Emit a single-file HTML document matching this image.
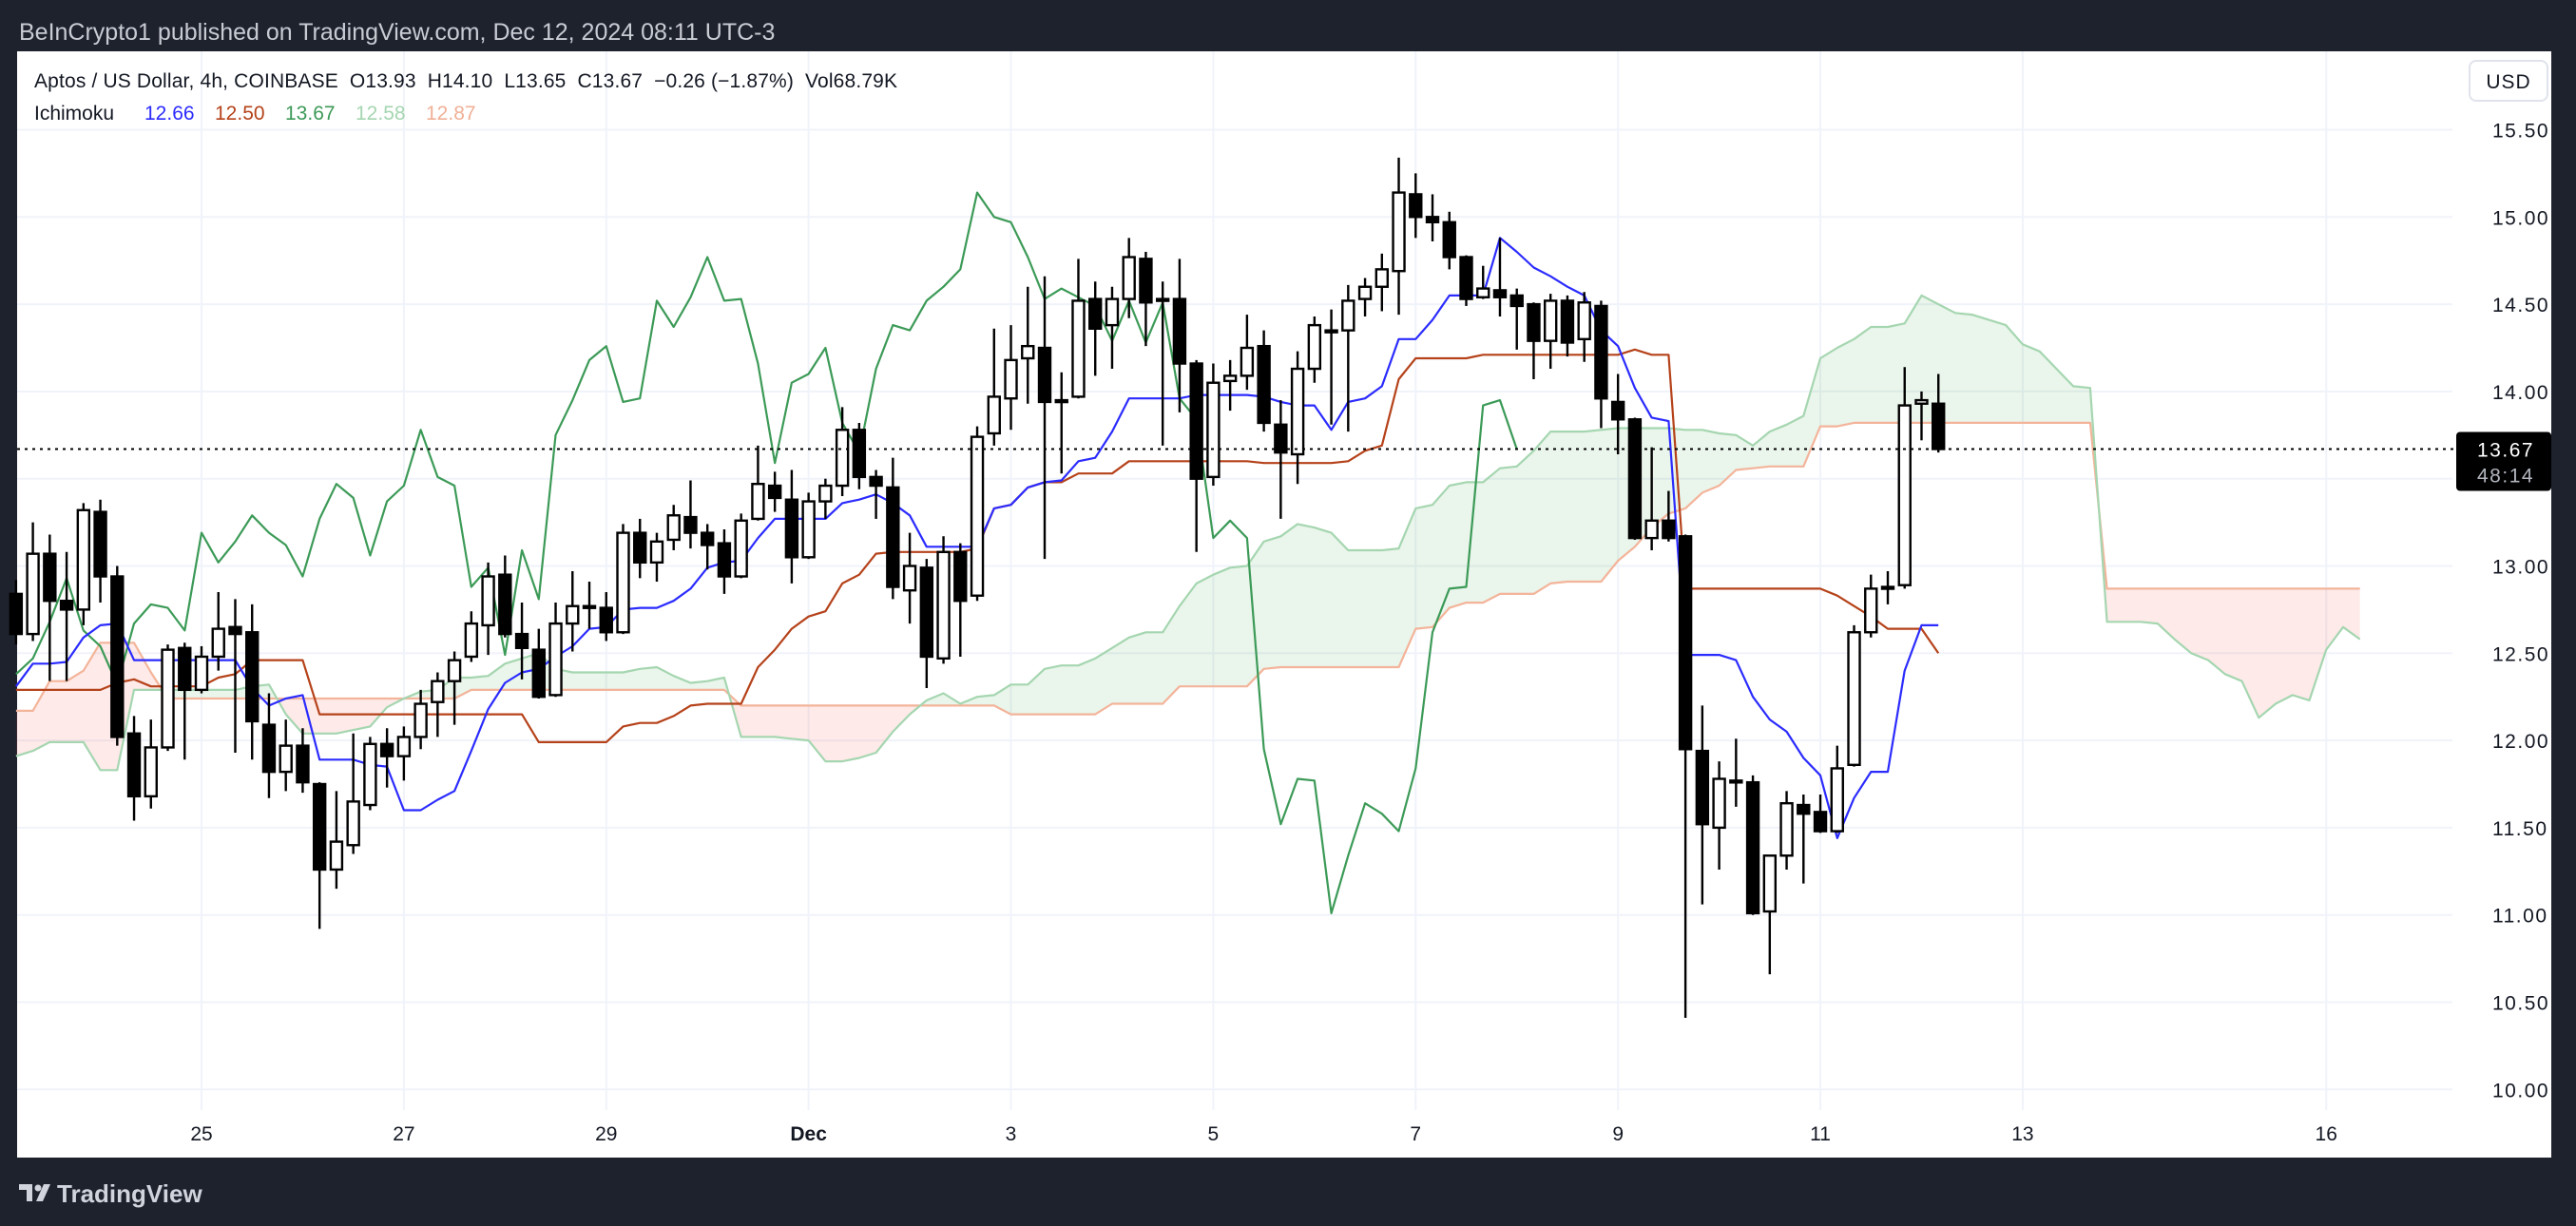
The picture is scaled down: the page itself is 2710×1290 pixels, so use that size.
<!DOCTYPE html>
<html><head><meta charset="utf-8"><style>
html,body{margin:0;padding:0;background:#1e222d;}
body{width:2710px;height:1290px;overflow:hidden;position:relative;font-family:"Liberation Sans",sans-serif;}
svg{position:absolute;left:0;top:0;}
</style></head><body>
<svg id="chart" width="2710" height="1290" viewBox="0 0 2710 1290" xmlns="http://www.w3.org/2000/svg">
<rect x="0" y="0" width="2710" height="1290" fill="#1e222d"/>
<text x="20" y="42" font-size="25" fill="#c9cbd3" font-family="Liberation Sans, sans-serif">BeInCrypto1 published on TradingView.com, Dec 12, 2024 08:11 UTC-3</text>
<rect x="18" y="54" width="2666" height="1164" fill="#ffffff"/>
<g id="grid"></g>
<g id="cloud"></g>
<g id="lines"></g>
<g id="candles"></g>
<g id="axes"></g>
<g font-size="21" font-family="Liberation Sans, sans-serif">
<text x="36" y="92" fill="#131722" xml:space="preserve" textLength="908" lengthAdjust="spacing">Aptos / US Dollar, 4h, COINBASE  O13.93  H14.10  L13.65  C13.67  −0.26 (−1.87%)  Vol68.79K</text>
<text x="36" y="126" fill="#131722">Ichimoku</text>
<text x="152" y="126" fill="#2b2bff">12.66</text>
<text x="226" y="126" fill="#b5421a">12.50</text>
<text x="300" y="126" fill="#3c9a57">13.67</text>
<text x="374" y="126" fill="#a5d6b0">12.58</text>
<text x="448" y="126" fill="#f0b096">12.87</text>
</g>
<g>
<rect x="2598" y="64" width="82" height="42" rx="7" fill="#fff" stroke="#e0e3eb" stroke-width="2"/>
<text x="2639" y="93" font-size="21" text-anchor="middle" fill="#131722" letter-spacing="1">USD</text>
</g>
<g>
<path d="M20 1246 h14 v18 h-6 v-12 h-8z M38 1264 l8 -18 h7 l-8 18z" fill="#d1d4dc"/>
<circle cx="40" cy="1250" r="3.5" fill="#d1d4dc"/>
<text x="60" y="1265" font-size="26" font-weight="bold" fill="#d1d4dc">TradingView</text>
</g>
</svg>
<script>
const yTicks = [10.0,10.5,11.0,11.5,12.0,12.5,13.0,13.5,14.0,14.5,15.0,15.5];
const xTickIdx = [0,12,24,36,48,60,72,84,96,108,126];
const xTickLabels = ["25","27","29","Dec","3","5","7","9","11","13","16"];
const startIndex = -11;
const opens = [12.84,12.61,13.07,12.80,12.75,13.31,12.94,12.04,11.68,11.96,12.53,12.29,12.48,12.65,12.62,12.09,11.82,11.97,11.75,11.26,11.40,11.63,11.98,11.91,12.02,12.22,12.34,12.48,12.66,12.95,12.61,12.52,12.26,12.67,12.77,12.76,12.62,13.19,13.02,13.15,13.28,13.19,13.13,12.94,13.27,13.46,13.38,13.05,13.37,13.46,13.78,13.51,13.45,12.86,12.99,12.47,13.08,12.83,13.76,13.96,14.19,14.25,13.95,13.97,14.53,14.38,14.53,14.76,14.53,14.53,14.16,13.51,14.06,14.09,14.26,13.81,13.64,14.13,14.35,14.35,14.53,14.60,14.69,15.13,15.00,14.97,14.77,14.54,14.58,14.55,14.50,14.29,14.52,14.30,14.49,13.94,13.84,13.16,13.26,13.17,11.94,11.50,11.77,11.76,11.02,11.34,11.63,11.59,11.48,11.86,12.62,12.87,12.89,13.93,13.93];
const highs = [12.92,13.25,13.18,13.08,13.36,13.38,13.00,12.14,12.12,12.55,12.56,12.54,12.85,12.81,12.78,12.27,12.12,12.07,11.76,11.71,12.04,12.02,12.07,12.08,12.29,12.39,12.51,12.74,13.02,13.06,12.79,12.64,12.79,12.97,12.91,12.85,13.24,13.27,13.19,13.35,13.49,13.24,13.21,13.30,13.69,13.54,13.55,13.42,13.50,13.91,13.82,13.55,13.62,13.19,13.04,13.17,13.13,13.80,14.36,14.38,14.60,14.66,14.11,14.76,14.63,14.60,14.88,14.80,14.63,14.76,14.18,14.16,14.18,14.44,14.35,13.95,14.23,14.43,14.47,14.61,14.65,14.79,15.34,15.25,15.13,15.03,14.78,14.72,14.88,14.59,14.51,14.56,14.55,14.57,14.52,14.10,13.85,13.68,13.43,13.18,12.20,11.88,12.01,11.80,11.34,11.71,11.69,11.69,11.97,12.66,12.95,12.97,14.14,14.00,14.10];
const lows = [12.55,12.57,12.34,12.34,12.66,12.79,11.97,11.54,11.61,11.94,11.89,12.27,12.40,11.93,11.89,11.67,11.71,11.70,10.92,11.15,11.35,11.60,11.73,11.77,11.95,12.02,12.09,12.45,12.49,12.59,12.35,12.24,12.25,12.51,12.64,12.57,12.61,12.93,12.91,13.09,13.10,12.98,12.84,12.93,13.26,13.31,12.90,13.04,13.27,13.40,13.44,13.27,12.81,12.67,12.30,12.44,12.48,12.80,13.69,13.78,13.93,13.04,13.53,13.96,14.09,14.13,14.42,14.26,13.69,13.88,13.08,13.46,13.89,14.01,13.77,13.27,13.47,14.05,13.81,13.77,14.43,14.46,14.44,14.88,14.86,14.70,14.49,14.53,14.43,14.24,14.07,14.13,14.20,14.17,13.79,13.64,13.15,13.09,13.14,10.41,11.06,11.26,11.62,11.00,10.66,11.26,11.18,11.47,11.47,11.85,12.59,12.78,12.87,13.72,13.65];
const closes = [12.61,13.07,12.80,12.75,13.32,12.94,12.02,11.68,11.96,12.52,12.29,12.48,12.64,12.61,12.11,11.82,11.97,11.76,11.26,11.42,11.65,11.98,11.91,12.02,12.21,12.34,12.46,12.67,12.94,12.61,12.53,12.25,12.67,12.77,12.77,12.62,13.19,13.02,13.14,13.29,13.19,13.12,12.94,13.26,13.47,13.39,13.05,13.37,13.46,13.78,13.51,13.46,12.88,13.00,12.48,13.08,12.80,13.74,13.97,14.18,14.26,13.94,13.95,14.52,14.36,14.53,14.77,14.51,14.52,14.16,13.50,14.05,14.09,14.25,13.82,13.65,14.13,14.38,14.35,14.52,14.60,14.70,15.14,15.00,14.97,14.77,14.53,14.59,14.54,14.49,14.29,14.52,14.28,14.51,13.96,13.84,13.16,13.26,13.16,11.95,11.52,11.78,11.77,11.01,11.34,11.64,11.58,11.48,11.84,12.62,12.87,12.88,13.92,13.95,13.67];
const conversion = [12.31,12.44,12.44,12.45,12.59,12.66,12.67,12.46,12.46,12.46,12.46,12.46,12.46,12.46,12.30,12.20,12.24,12.26,11.89,11.89,11.89,11.86,11.85,11.60,11.60,11.66,11.71,11.94,12.18,12.33,12.39,12.41,12.48,12.54,12.64,12.65,12.75,12.76,12.76,12.80,12.87,12.99,13.02,13.03,13.16,13.27,13.27,13.27,13.27,13.36,13.38,13.41,13.36,13.29,13.11,13.11,13.11,13.11,13.33,13.35,13.45,13.48,13.49,13.60,13.62,13.77,13.96,13.96,13.96,13.96,13.98,13.98,13.98,13.98,13.97,13.94,13.92,13.92,13.78,13.94,13.96,14.03,14.30,14.30,14.41,14.55,14.55,14.55,14.88,14.80,14.71,14.66,14.60,14.55,14.35,14.26,14.02,13.85,13.83,12.49,12.49,12.49,12.46,12.25,12.12,12.05,11.90,11.80,11.44,11.67,11.82,11.82,12.40,12.66,12.66];
const baseLine = [12.29,12.29,12.29,12.29,12.29,12.29,12.33,12.35,12.31,12.31,12.31,12.31,12.36,12.38,12.46,12.46,12.46,12.46,12.15,12.15,12.15,12.15,12.15,12.15,12.15,12.15,12.15,12.15,12.15,12.15,12.15,11.99,11.99,11.99,11.99,11.99,12.08,12.10,12.10,12.14,12.20,12.21,12.21,12.21,12.42,12.52,12.64,12.71,12.74,12.90,12.95,13.07,13.08,13.08,13.08,13.08,13.08,13.10,13.33,13.35,13.45,13.48,13.48,13.53,13.53,13.53,13.60,13.60,13.60,13.60,13.60,13.60,13.60,13.60,13.59,13.59,13.59,13.59,13.59,13.60,13.66,13.69,14.07,14.19,14.19,14.19,14.19,14.21,14.21,14.21,14.21,14.21,14.21,14.21,14.21,14.21,14.24,14.21,14.21,12.87,12.87,12.87,12.87,12.87,12.87,12.87,12.87,12.87,12.83,12.77,12.71,12.64,12.64,12.64,12.50];
const lagging = [12.38,12.47,12.68,12.93,12.63,12.54,12.32,12.67,12.78,12.76,12.63,13.19,13.02,13.14,13.29,13.19,13.12,12.94,13.27,13.47,13.39,13.06,13.37,13.46,13.78,13.51,13.46,12.88,12.99,12.49,13.09,12.81,13.75,13.95,14.18,14.26,13.94,13.96,14.52,14.37,14.54,14.77,14.52,14.53,14.16,13.59,14.05,14.10,14.25,13.82,13.65,14.13,14.38,14.35,14.52,14.60,14.70,15.14,15.00,14.97,14.77,14.53,14.59,14.54,14.49,14.29,14.52,14.28,14.51,13.96,13.84,13.16,13.26,13.16,11.95,11.52,11.78,11.77,11.01,11.34,11.64,11.58,11.48,11.84,12.62,12.87,12.88,13.92,13.95,13.67];
const leadA = [11.91,11.94,11.99,11.99,11.99,11.83,11.83,12.29,
12.29,12.29,12.29,12.29,12.29,12.29,
12.31,12.32,12.15,12.04,12.04,12.04,12.06,12.08,12.19,12.24,12.28,12.29,
12.36,12.36,12.37,12.44,12.47,12.50,12.41,12.39,12.39,12.39,12.39,12.41,12.42,
12.37,12.33,12.34,12.36,12.02,12.02,12.02,12.01,12.00,11.88,11.88,11.90,11.93,
12.05,12.15,12.23,12.27,12.21,12.25,12.26,12.32,12.32,12.41,12.43,12.43,12.47,
12.53,12.59,12.62,12.62,12.77,12.90,12.95,12.99,13.00,13.14,13.17,13.24,13.22,
13.19,13.09,13.09,13.09,13.10,13.33,13.35,13.46,13.48,13.48,13.56,13.57,13.66,
13.77,13.77,13.77,13.78,13.79,13.79,13.79,13.79,13.78,13.78,13.76,13.75,13.69,
13.77,13.81,13.86,14.19,14.25,14.30,14.37,14.37,14.39,14.55,14.50,
14.45,14.44,14.41,14.38,14.27,14.23,14.13,14.03,14.02,12.68,12.68,12.68,12.67,
12.58,12.50,12.46,12.38,12.34,12.13,12.21,12.26,12.23,12.52,12.65,12.58];
const leadB = [12.17,12.17,12.34,12.34,12.40,12.56,12.56,12.56,12.39,12.24,
12.24,12.24,12.24,12.24,12.24,12.24,12.24,12.24,12.24,12.24,12.24,12.24,12.24,12.24,12.24,12.24,12.24,
12.29,12.29,12.29,12.29,12.29,12.29,12.29,12.29,12.29,12.29,12.29,12.29,12.29,12.29,12.29,12.29,
12.20,12.20,12.20,12.20,12.20,12.20,12.20,12.20,12.20,12.20,12.20,12.20,12.20,12.20,12.20,12.20,
12.15,12.15,12.15,12.15,12.15,12.15,
12.21,12.21,12.21,12.21,
12.31,12.31,12.31,12.31,12.31,
12.41,
12.42,12.42,12.42,12.42,12.42,12.42,12.42,12.42,
12.64,12.65,12.76,12.79,12.79,12.84,12.84,12.84,12.90,12.91,12.91,12.91,
13.03,13.11,13.22,13.30,13.33,13.42,13.46,13.55,13.56,13.57,13.57,13.57,13.80,13.80,
13.82,13.82,13.82,13.82,13.82,13.82,13.82,13.82,13.82,13.82,13.82,13.82,13.82,13.82,13.82,
12.87,12.87,12.87,12.87,12.87,12.87,12.87,12.87,12.87,12.87,12.87,12.87,12.87,12.87,12.87,12.87];
const lastPrice = 13.67;

const NS = "http://www.w3.org/2000/svg";
function xs(i){ return 212 + 17.74 * i; }
function ys(p){ return 136.5 + (15.5 - p) * 183.6; }
function mk(tag, attrs, parent){
  const e = document.createElementNS(NS, tag);
  for (const k in attrs) e.setAttribute(k, attrs[k]);
  parent.appendChild(e);
  return e;
}
const grid = document.getElementById('grid');
const axes = document.getElementById('axes');
const cloud = document.getElementById('cloud');
const lines = document.getElementById('lines');
const candles = document.getElementById('candles');

yTicks.forEach(v => {
  const l = mk('line', {x1: 18, x2: 2580, y1: ys(v), y2: ys(v), stroke: '#f0f3fa', 'stroke-width': 2}, grid);
  
  
  const t = mk('text', {x: 2622, y: ys(v) + 8, 'font-size': 21, fill: '#131722', 'letter-spacing': 1.5}, axes);
  t.textContent = v.toFixed(2);
  
  
});
xTickIdx.forEach((idx, k) => {
  const l = mk('line', {x1: xs(idx), x2: xs(idx), y1: 54, y2: 1168, stroke: '#f0f3fa', 'stroke-width': 2}, grid);
  
  
  const t = mk('text', {x: xs(idx), y: 1200, 'font-size': 21, fill: '#131722', 'text-anchor': 'middle', 'font-weight': xTickLabels[k] === 'Dec' ? 'bold' : 'normal'}, axes);
  t.textContent = xTickLabels[k];
  
  
});

for (let j = 0; j < leadA.length - 1; j++) {
  const i0 = startIndex + j, i1 = i0 + 1;
  const a0 = leadA[j], a1 = leadA[j+1], b0 = leadB[j], b1 = leadB[j+1];
  const d0 = a0 - b0, d1 = a1 - b1;
  const col = d => d >= 0 ? 'rgba(67,160,71,0.11)' : 'rgba(244,67,54,0.11)';
  let polys = [];
  if (d0 * d1 < 0) {
    const t = d0 / (d0 - d1);
    const xi = xs(i0) + t * (xs(i1) - xs(i0));
    const yi = ys(a0 + t * (a1 - a0));
    polys.push([[xs(i0), ys(a0)], [xi, yi], [xs(i0), ys(b0)], d0]);
    polys.push([[xi, yi], [xs(i1), ys(a1)], [xs(i1), ys(b1)], d1]);
  } else {
    polys.push([[xs(i0), ys(a0)], [xs(i1), ys(a1)], [xs(i1), ys(b1)], [xs(i0), ys(b0)], d0 + d1]);
  }
  polys.forEach(pp => {
    const d = pp.pop();
    const p = mk('polygon', {points: pp.map(q => q[0].toFixed(1) + ',' + q[1].toFixed(1)).join(' '), fill: col(d)}, cloud);
    
    
  });
}
function pathOf(arr){
  return arr.map((v, j) => (j ? 'L' : 'M') + xs(startIndex + j).toFixed(1) + ',' + ys(v).toFixed(1)).join(' ');
}
const specs = [
  [leadB, '#f3b49a', 'leading-span-b'],
  [leadA, '#a5d6b0', 'leading-span-a'],
  [lagging, '#3c9a57', 'lagging-span'],
  [baseLine, '#b5421a', 'base-line'],
  [conversion, '#2b2bff', 'conversion-line']
];
specs.forEach(s => {
  const p = mk('path', {d: pathOf(s[0]), fill: 'none', stroke: s[1], 'stroke-width': 2.2, 'stroke-linejoin': 'round'}, lines);
  
  
});

for (let j = 0; j < opens.length; j++) {
  const i = startIndex + j, cx = xs(i);
  const o = opens[j], c = closes[j], h = highs[j], l = lows[j];
  const up = c >= o;
  const g = mk('g', {}, candles);
  
  
  mk('line', {x1: cx, x2: cx, y1: ys(h), y2: ys(l), stroke: '#000', 'stroke-width': 2.4}, g);
  const top = ys(Math.max(o, c)), bot = ys(Math.min(o, c));
  const hgt = Math.max(bot - top, 2);
  mk('rect', {x: cx - 6, y: top, width: 12, height: hgt, fill: up ? '#fff' : '#000', stroke: '#000', 'stroke-width': 2.4}, g);
}
const pl = mk('line', {x1: 18, x2: 2584, y1: ys(lastPrice), y2: ys(lastPrice), stroke: '#000', 'stroke-width': 2, 'stroke-dasharray': '3 5'}, axes);


const box = mk('rect', {x: 2584, y: ys(lastPrice) - 18, width: 100, height: 62, rx: 4, fill: '#000'}, axes);


const t1 = mk('text', {x: 2606, y: ys(lastPrice) + 8, 'font-size': 21, fill: '#fff', 'letter-spacing': 1.5}, axes);
t1.textContent = lastPrice.toFixed(2);


const t2 = mk('text', {x: 2606, y: ys(lastPrice) + 35, 'font-size': 21, fill: '#b2b5be', 'letter-spacing': 1.5}, axes);
t2.textContent = '48:14';


</script>
</body></html>
